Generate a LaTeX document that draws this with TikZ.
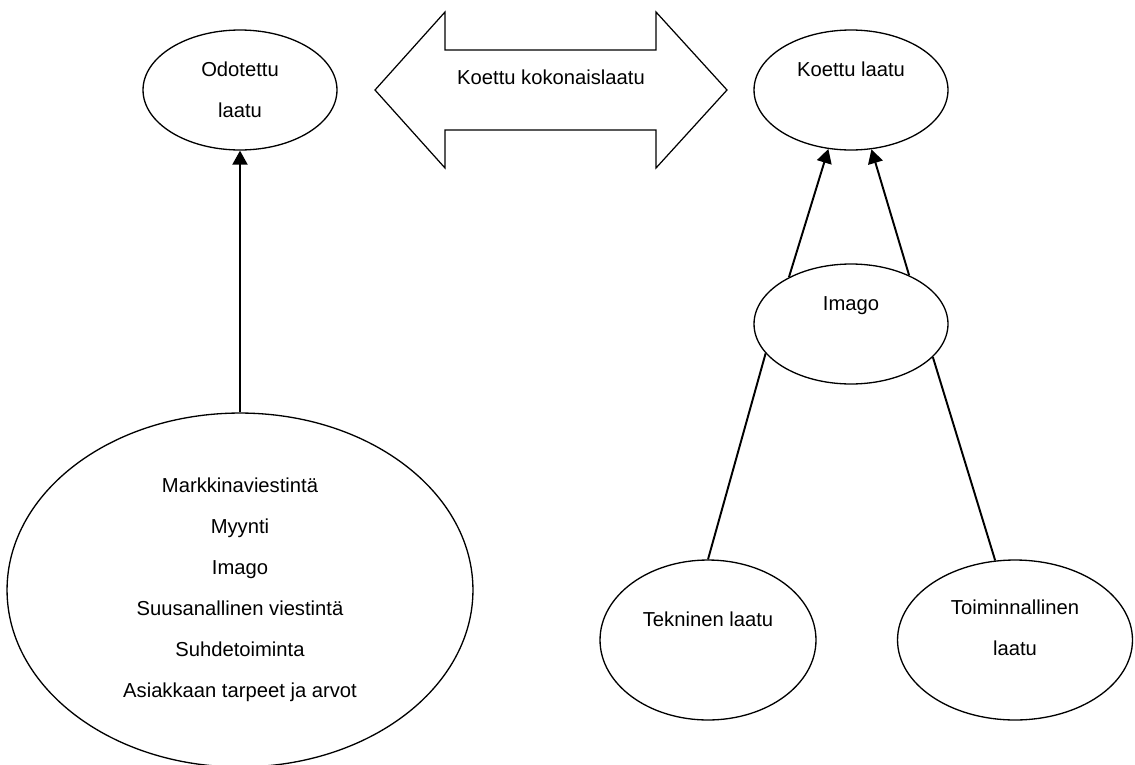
\documentclass[tikz,border=0pt]{standalone}
\usepackage{fontspec}
\setmainfont{Liberation Sans}
\usetikzlibrary{shapes.geometric,arrows.meta}
\tikzset{
  oval/.style={draw, ellipse, line width=0.75pt, align=center, inner sep=1pt,
    font=\fontsize{11.5}{23.3}\selectfont},
  small oval/.style={oval, minimum width=3.88cm, minimum height=2.4cm},
  link/.style={line width=1.1pt, -{Triangle[length=0.28cm,width=0.3cm]}},
  plain/.style={line width=1.1pt},
}
\begin{document}
\begin{tikzpicture}[x=0.02cm, y=-0.02cm]
	\useasboundingbox (0,0) rectangle (1135,764);
	\node [small oval] at (240, 90) (odot) {Odotettu\\laatu};
	\node [oval, minimum width=9.32cm, minimum height=7.08cm] at (240, 590) (tekijat) {Markkinaviestintä\\Myynti\\Imago\\Suusanallinen viestintä\\Suhdetoiminta\\Asiakkaan tarpeet ja arvot};
	\node [small oval] at (851, 90) (koettu) {Koettu laatu\\\mbox{}};
	\node [small oval] at (851, 324) (imago) {Imago\\\mbox{}};
	\node [oval, minimum width=4.32cm, minimum height=3.2cm] at (708, 640) (tekn) {Tekninen laatu\\\mbox{}};
	\node [oval, minimum width=4.7cm, minimum height=3.2cm] at (1015, 640) (toim) {Toiminnallinen\\laatu\\[-0.34cm]\mbox{}};
	\draw [line width=0.7pt] (375, 90) -- (445, 12) -- (445, 50) -- (656, 50) -- (656, 12) -- (727, 90)
		-- (656, 168) -- (656, 130) -- (445, 130) -- (445, 168) -- cycle;
	\node [font=\fontsize{11.5}{14}\selectfont] at (551, 77) (kokon) {Koettu kokonaislaatu};
	\draw [link] (tekijat) -- (odot);
	\draw [link] (imago.143) -- (koettu.249);
	\draw [link] (imago.40) -- (koettu.289);
	\draw [plain] (tekn.north) -- (imago.199);
	\draw [plain] (toim.104) -- (imago.338);
\end{tikzpicture}
\end{document}
